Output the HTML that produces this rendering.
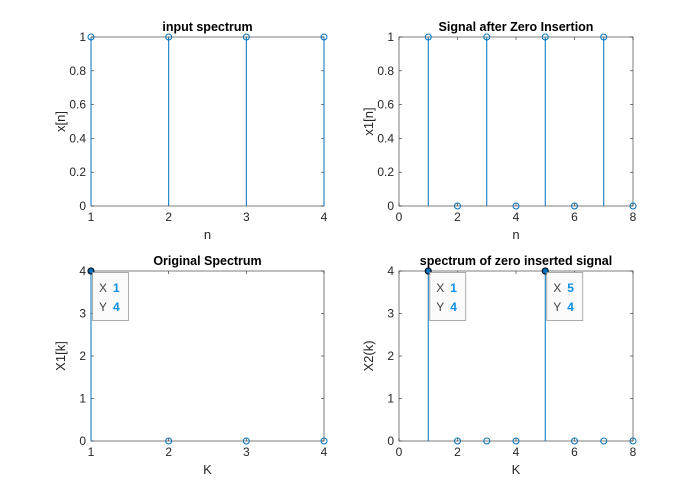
<!DOCTYPE html>
<html><head><meta charset="utf-8"><style>
body{margin:0;background:#fff;}
svg{font-family:"Liberation Sans",sans-serif;}
</style></head><body>
<svg id="fig" width="698" height="495"></svg>
<script>
const p1N=[1,2,3,4], p1V=[1,1,1,1];
const p2N=[1,2,3,4,5,6,7,8], p2V=[1,0,1,0,1,0,1,0];
const p3N=[1,2,3,4], p3V=[4,0,0,0];
const p4N=[1,2,3,4,5,6,7,8], p4V=[4,0,0,0,4,0,0,0];
const yT1=[0,0.2,0.4,0.6,0.8,1], yT2=[0,1,2,3,4];
const xT1=[1,2,3,4], xT2=[0,2,4,6,8];
const tips3=[[1,4]], tips4=[[1,4],[5,4]];
const NS="http://www.w3.org/2000/svg", svg=document.getElementById('fig');
function el(t,a,par){const e=document.createElementNS(NS,t);for(const k in a)e.setAttribute(k,a[k]);(par||svg).appendChild(e);return e;}
function txt(s,a,par){const e=el('text',a,par);e.textContent=s;return e;}
function panel(name,box,xd,yd,xt,yt,xs,ys,title,xl,yl,tips){
 const g=el('g',{});
 
 
 const [L,T,R,B]=box;
 const sx=v=>L+(v-xd[0])/(xd[1]-xd[0])*(R-L), sy=v=>B-(v-yd[0])/(yd[1]-yd[0])*(B-T);
 el('rect',{x:L,y:T,width:R-L,height:B-T,fill:'#fff',stroke:'#262626','stroke-width':0.6},g);
 xt.forEach(v=>{const x=sx(v);el('line',{x1:x,x2:x,y1:B,y2:B-3,stroke:'#262626','stroke-width':0.6},g);el('line',{x1:x,x2:x,y1:T,y2:T+3,stroke:'#262626','stroke-width':0.6},g);
  const t=txt(String(v),{x:x,y:B+15,'font-size':12,'text-anchor':'middle',fill:'#262626'},g);});
 yt.forEach(v=>{const y=sy(v);el('line',{x1:L,x2:L+3,y1:y,y2:y,stroke:'#262626','stroke-width':0.6},g);el('line',{x1:R,x2:R-3,y1:y,y2:y,stroke:'#262626','stroke-width':0.6},g);
  const t=txt(String(v),{x:L-5,y:y+4,'font-size':12,'text-anchor':'end',fill:'#262626'},g);});
 xs.forEach((xv,i)=>{const x=sx(xv),y=sy(ys[i]);
  const s=el('line',{x1:x,x2:x,y1:sy(0),y2:y,stroke:'#0072BD','stroke-width':1},g);
  
  const c=el('circle',{cx:x,cy:y,r:3,fill:'none',stroke:'#0072BD','stroke-width':1},g);
  });
 const ti=txt(title,{x:(L+R)/2,y:T-6,'font-size':12.5,'font-weight':'bold','text-anchor':'middle',fill:'#000'},g);
 
 const xl_=txt(xl,{x:(L+R)/2,y:B+33,'font-size':13,'text-anchor':'middle',fill:'#262626'},g);
 
 const cy=(T+B)/2;
 const yl_=txt(yl,{x:L-26,y:cy,'font-size':13,'text-anchor':'middle',fill:'#262626',transform:`rotate(-90 ${L-26} ${cy})`},g);
 
 (tips||[]).forEach(([a,b])=>{const x=sx(a),y=sy(b);
  const d=el('g',{},g);
  
  el('circle',{cx:x,cy:y,r:3,fill:'#0072BD',stroke:'#000','stroke-width':1},d);
  el('rect',{x:x+1.5,y:y+1.5,width:36,height:48,fill:'#fafafa',stroke:'#999','stroke-width':0.8},d);
  txt('X',{x:x+8,y:y+21,'font-size':12,fill:'#444'},d);
  txt(String(a),{x:x+22,y:y+21,'font-size':12,'font-weight':'bold',fill:'#0a8ee6'},d);
  txt('Y',{x:x+8,y:y+40,'font-size':12,fill:'#444'},d);
  txt(String(b),{x:x+22,y:y+40,'font-size':12,'font-weight':'bold',fill:'#0a8ee6'},d);
 });
}
panel('input-spectrum-axes',[91,37,324,206],[1,4],[0,1],xT1,yT1,p1N,p1V,'input spectrum','n','x[n]');
panel('zero-insertion-axes',[399,37,633,206],[0,8],[0,1],xT2,yT1,p2N,p2V,'Signal after Zero Insertion','n','x1[n]');
panel('original-spectrum-axes',[91,271,324,441],[1,4],[0,4],xT1,yT2,p3N,p3V,'Original Spectrum','K','X1[k]',tips3);
panel('zero-inserted-spectrum-axes',[399,271,633,441],[0,8],[0,4],xT2,yT2,p4N,p4V,'spectrum of zero inserted signal','K','X2(k)',tips4);
</script>
</body></html>
